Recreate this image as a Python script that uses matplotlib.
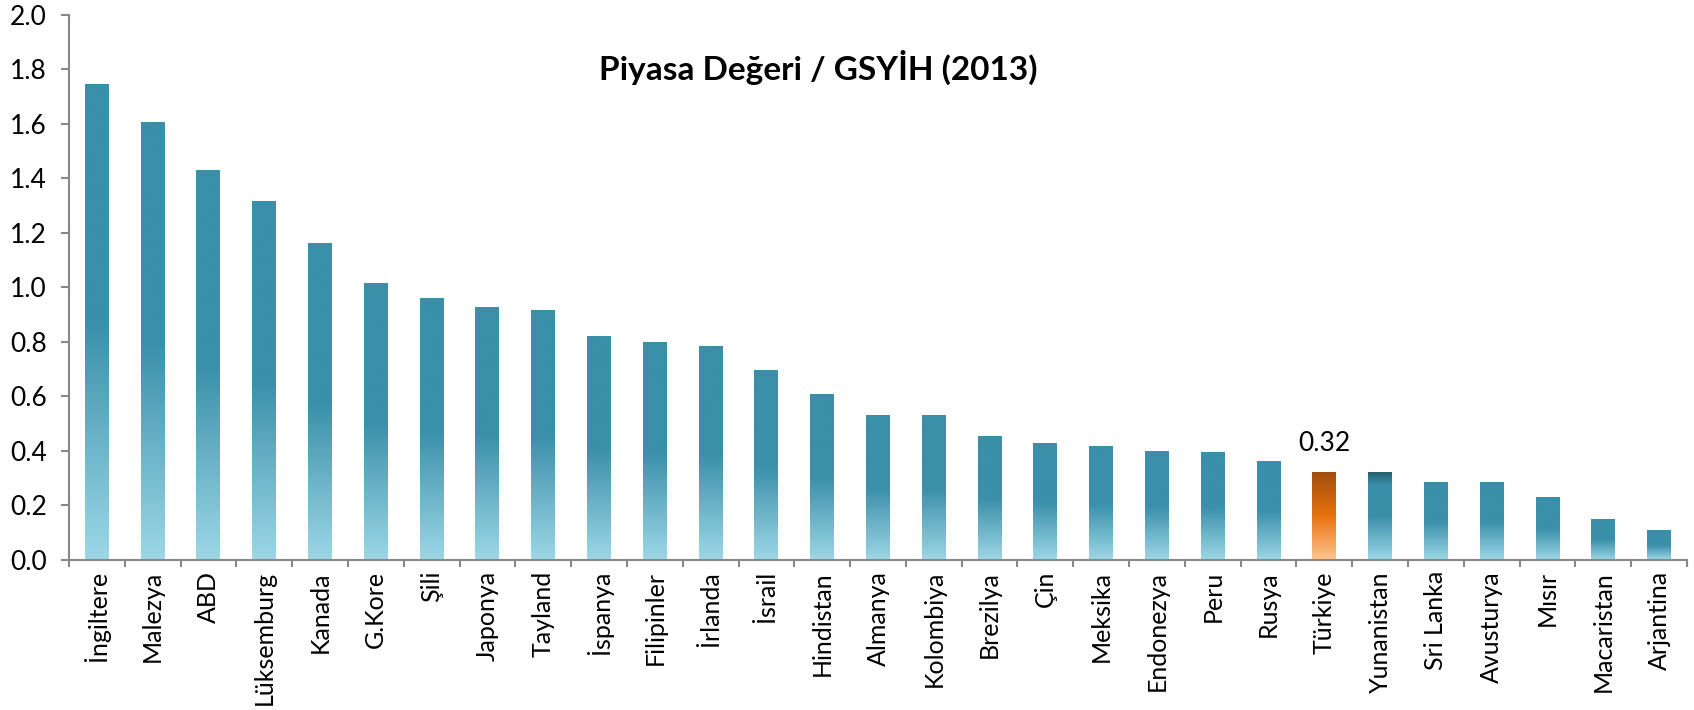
import numpy as np
from matplotlib import pyplot as plt
from matplotlib.colors import to_rgb

plt.rcParams['font.family'] = ['Lato', 'DejaVu Sans']

# Data
countries = ['İngiltere', 'Malezya', 'ABD', 'Lüksemburg', 'Kanada', 'G.Kore', 'Şili',
             'Japonya', 'Tayland', 'İspanya', 'Filipinler', 'İrlanda', 'İsrail',
             'Hindistan', 'Almanya', 'Kolombiya', 'Brezilya', 'Çin', 'Meksika',
             'Endonezya', 'Peru', 'Rusya', 'Türkiye', 'Yunanistan', 'Sri Lanka',
             'Avusturya', 'Mısır', 'Macaristan', 'Arjantina']
values = [1.746, 1.604, 1.430, 1.314, 1.160, 1.013, 0.958,
          0.928, 0.917, 0.822, 0.800, 0.782, 0.697,
          0.609, 0.532, 0.532, 0.455, 0.429, 0.418,
          0.400, 0.393, 0.363, 0.32, 0.32, 0.286,
          0.283, 0.228, 0.150, 0.110]
highlight = 'Türkiye'
highlight_label = '0.32'
y_ticks = [0.0, 0.2, 0.4, 0.6, 0.8, 1.0, 1.2, 1.4, 1.6, 1.8, 2.0]


def gradient(stops, n=200):
    # stops: list of (position from bottom 0..1, colour)
    pos = np.linspace(0, 1, n)
    ps = [s[0] for s in stops]
    cols = np.array([to_rgb(s[1]) for s in stops])
    img = np.stack([np.interp(pos, ps, cols[:, k]) for k in range(3)], axis=-1)
    return img[:, None, :]


teal = gradient([(0, '#9cd7e7'), (0.5, '#3a8fa9'), (1, '#3a8fa9')])
orange = gradient([(0, '#ffc690'), (0.5, '#e8720f'), (1, '#a04e0c')])
greek = gradient([(0, '#9cd7e7'), (0.5, '#3a8fa9'), (0.85, '#3a8fa9'), (1, '#2b5f70')])

fig = plt.figure(figsize=(16.94, 7.10), dpi=100)
ax = fig.add_axes([0.0407, 0.2113, 0.9552, 0.7676])

x = np.arange(len(countries))
bars = ax.bar(x, values, width=0.43, color='none', edgecolor='none')

for name, rect in zip(countries, bars):
    img = teal
    if name == highlight:
        img = orange
    elif name == 'Yunanistan':
        img = greek
    x0 = rect.get_x()
    ax.imshow(img, extent=(x0, x0 + rect.get_width(), 0, rect.get_height()),
              origin='lower', aspect='auto', interpolation='bilinear', zorder=2)

# value label over the highlighted bar
hi = countries.index(highlight)
ax.text(x[hi], values[hi] + 0.06, highlight_label, ha='center', va='bottom', fontsize=19)

ax.set_xlim(-0.5, len(countries) - 0.5)
ax.set_ylim(0, 2.0)
ax.set_yticks(y_ticks)
ax.set_yticklabels([f'{v:.1f}' for v in y_ticks], fontsize=19)

ax.set_xticks(x)
ax.set_xticklabels(countries, rotation=90, fontsize=18, va='top', ha='center')
ax.set_xticks(np.arange(len(countries) + 1) - 0.5, minor=True)
ax.tick_params(axis='x', which='major', length=0, pad=8)
ax.tick_params(axis='x', which='minor', length=5, width=1.5, color='#888888')
ax.tick_params(axis='y', length=6, width=1.5, color='#888888', pad=10)

for side in ['top', 'right']:
    ax.spines[side].set_visible(False)
for side in ['left', 'bottom']:
    ax.spines[side].set_color('#888888')
    ax.spines[side].set_linewidth(1.5)

ax.set_title('Piyasa Değeri / GSYİH (2013)', fontsize=24, fontweight='bold',
             x=0.463, y=0.865)

fig.savefig('out.png', dpi=100)
